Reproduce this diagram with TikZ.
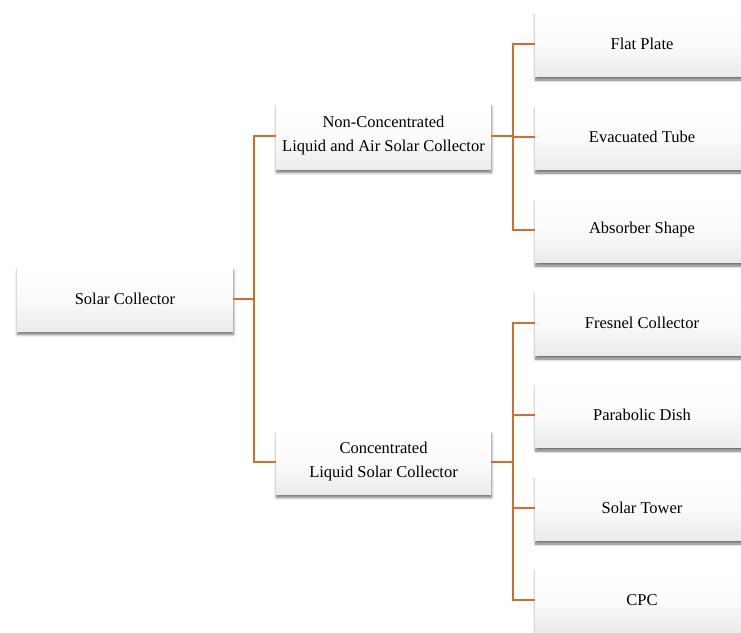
\documentclass[tikz,border=0pt]{standalone}
\usepackage{fontspec}
\setmainfont{Liberation Serif}
\usetikzlibrary{shadows.blur}
\definecolor{conn}{RGB}{210,110,45}
\tikzset{
  box/.style={rectangle, draw=none, top color=white, bottom color=gray!16,
    middle color=white!97!gray,
    blur shadow={shadow xshift=0.5pt, shadow yshift=-3.5pt, shadow blur steps=6,
      shadow blur radius=2.5pt, shadow opacity=55},
    align=center, font=\fontsize{16.5}{24}\selectfont, inner sep=0pt},
  wide/.style={minimum width=216pt, minimum height=64pt},
  leaf/.style={minimum width=214pt, minimum height=65pt},
  link/.style={draw=conn, line width=2.3pt}
}
\begin{document}
\begin{tikzpicture}[x=1pt,y=1pt]
\useasboundingbox (0,0) rectangle (741,-632);
\clip (0,0) rectangle (741,-632);
\node[box,wide] (sc) at (125,-299) {Solar Collector};
\node[box,minimum width=215pt,minimum height=66pt] (nc) at (383.5,-136) {Non-Concentrated\\Liquid and Air Solar Collector};
\node[box,minimum width=215pt,minimum height=64pt] (cc) at (383.5,-462) {Concentrated\\Liquid Solar Collector};
\node[box,leaf] (fp) at (642,-44) {Flat Plate};
\node[box,leaf] (et) at (642,-137) {Evacuated Tube};
\node[box,leaf] (as) at (642,-230) {Absorber Shape};
\node[box,leaf] (fc) at (642,-323) {Fresnel Collector};
\node[box,leaf] (pd) at (642,-415) {Parabolic Dish};
\node[box,leaf] (st) at (642,-508) {Solar Tower};
\node[box,leaf] (cpc) at (642,-600) {CPC};
\coordinate (j1) at (254,-299);
\coordinate (j2) at (513,-136);
\coordinate (j3) at (513,-462);
\draw[link] (sc.east) -- (j1);
\draw[link] (nc.west) -| (j1);
\draw[link] (cc.west) -| (j1);
\draw[link] (nc.east) -- (j2);
\draw[link] (fp.west) -| (j2);
\draw[link] (et.west) -| (j2);
\draw[link] (as.west) -| (j2);
\draw[link] (cc.east) -- (j3);
\draw[link] (fc.west) -| (j3);
\draw[link] (pd.west) -| (j3);
\draw[link] (st.west) -| (j3);
\draw[link] (cpc.west) -| (j3);
\end{tikzpicture}
\end{document}
